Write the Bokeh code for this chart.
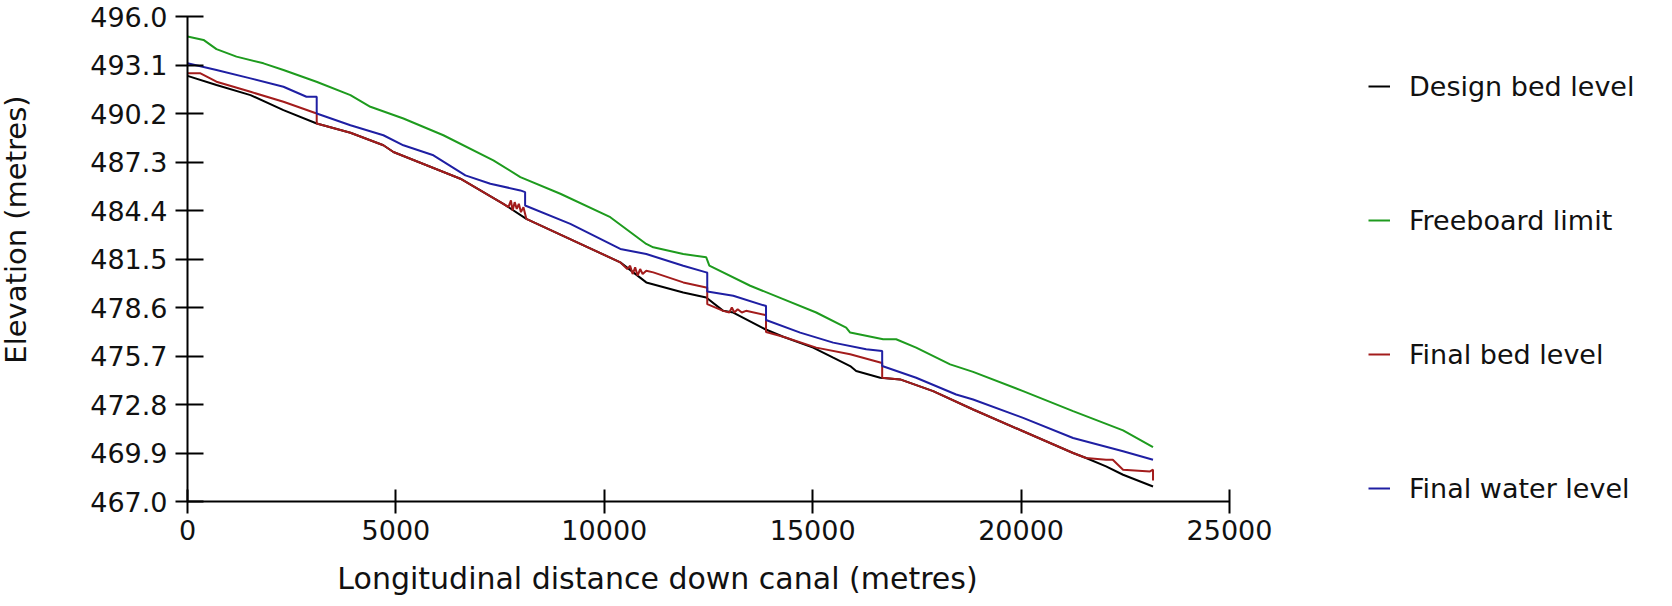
import math
from bokeh.plotting import figure
from bokeh.models import FixedTicker, PrintfTickFormatter, Legend, LegendItem, Label, Range1d
from bokeh.embed import file_html
from bokeh.resources import INLINE

# ---------------- data ----------------
x_ticks = [0, 5000, 10000, 15000, 20000, 25000]
y_ticks = [467.0, 469.9, 472.8, 475.7, 478.6, 481.5, 484.4, 487.3, 490.2, 493.1, 496.0]

design_x = [0, 695, 1511, 2302, 3100, 3909, 4700, 4940, 6547, 7578, 8129, 10384, 11007, 11894,
            12446, 12854, 13094, 13861, 14293, 15010, 15492, 15899, 16043, 16620, 17098, 17890,
            18849, 20048, 21247, 21559, 22038, 22446, 23165]
design_y = [492.45, 491.9, 491.3, 490.4, 489.6, 489.05, 488.3, 487.9, 486.3, 484.8, 483.9, 481.3,
            480.1, 479.5, 479.2, 478.4, 478.3, 477.3, 476.85, 476.2, 475.6, 475.1, 474.8, 474.4,
            474.3, 473.6, 472.5, 471.2, 469.9, 469.6, 469.1, 468.6, 467.9]

freeboard_x = [0, 384, 695, 1175, 1823, 2302, 3094, 3909, 4388, 5180, 6139, 7338, 7986, 8945,
               10144, 11007, 11175, 11894, 12446, 12520, 13501, 14293, 15084, 15803, 15899, 16691,
               17002, 17482, 18297, 18849, 20048, 21247, 22446, 23165]
freeboard_y = [494.8, 494.6, 494.05, 493.6, 493.2, 492.8, 492.1, 491.3, 490.6, 489.9, 488.9, 487.4,
               486.4, 485.4, 484.0, 482.4, 482.2, 481.8, 481.6, 481.1, 479.9, 479.1, 478.3, 477.4,
               477.1, 476.7, 476.7, 476.2, 475.2, 474.75, 473.6, 472.4, 471.25, 470.25]

final_bed_x = [0, 312, 695, 1511, 2302, 3100, 3100, 3909, 4700, 4940, 6547, 7578, 7700, 7760, 7800,
               7850, 7900, 7950, 8000, 8060, 8129, 10384, 10550, 10620, 10680, 10740, 10800, 10860,
               10920, 11007, 11175, 11894, 12446, 12470, 12470, 12854, 13000, 13060, 13120, 13200,
               13300, 13400, 13861, 13880, 13880, 14293, 15084, 15899, 16643, 16667, 16667, 17098,
               17890, 18849, 20048, 21247, 21559, 22038, 22200, 22446, 23094, 23165, 23165]
final_bed_y = [492.6, 492.6, 492.1, 491.5, 490.9, 490.2, 489.6, 489.05, 488.3, 487.9, 486.3, 484.8,
               484.6, 485.0, 484.4, 484.9, 484.5, 484.8, 484.3, 484.6, 483.9, 481.3, 480.9, 481.1,
               480.6, 481.0, 480.5, 480.9, 480.6, 480.8, 480.7, 480.1, 479.8, 479.8, 478.8, 478.4,
               478.3, 478.6, 478.3, 478.5, 478.3, 478.4, 478.15, 478.15, 477.14, 476.85, 476.2,
               475.8, 475.3, 475.3, 474.4, 474.3, 473.6, 472.5, 471.2, 469.9, 469.6, 469.5, 469.5,
               468.9, 468.8, 468.9, 468.25]

water_x = [0, 695, 1511, 2302, 2854, 3100, 3100, 3909, 4700, 5180, 5900, 6667, 7266, 7986, 8100,
           8100, 9185, 10384, 11007, 11894, 12446, 12470, 12470, 13094, 13861, 13880, 13880, 14700,
           15492, 16283, 16667, 16667, 17482, 18441, 18849, 20048, 21247, 22446, 23165]
water_y = [493.2, 492.8, 492.3, 491.8, 491.2, 491.2, 490.2, 489.5, 488.9, 488.3, 487.7, 486.5, 486.0,
           485.6, 485.5, 484.7, 483.6, 482.1, 481.8, 481.1, 480.7, 480.7, 479.55, 479.3, 478.7,
           478.7, 477.85, 477.1, 476.5, 476.1, 476.0, 475.1, 474.4, 473.4, 473.1, 472.0, 470.8,
           470.0, 469.5]

series_names = ["Design bed level", "Freeboard limit", "Final bed level", "Final water level"]
series_colors = ["#000000", "#1e9b1e", "#a31c1c", "#1f1fa3"]

x_label = "Longitudinal distance down canal (metres)"
y_label = "Elevation (metres)"

# ---------------- layout (pixels inside the figure) ----------------
FONT = "DejaVu Sans"
W, H = 1656, 596
AX_LEFT, AX_RIGHT = 187.0, 1229.0     # pixel of x=0 and x=25000
AX_TOP, AX_BOTTOM = 16.0, 501.0       # pixel of y=496 and y=467
x0, x1 = x_ticks[0], x_ticks[-1]
y0, y1 = y_ticks[0], y_ticks[-1]
sx = (AX_RIGHT - AX_LEFT) / (x1 - x0)
sy = (AX_BOTTOM - AX_TOP) / (y1 - y0)
x_range = Range1d(x0 - AX_LEFT / sx, x0 + (W - AX_LEFT) / sx)
y_range = Range1d(y0 - (H - AX_BOTTOM) / sy, y1 + AX_TOP / sy)

def px_to_data(px, py):
    return x0 + (px - AX_LEFT) / sx, y0 + (AX_BOTTOM - py) / sy

p = figure(width=W, height=H, output_backend="svg", toolbar_location=None,
           x_range=x_range, y_range=y_range, min_border=0)
p.outline_line_color = None
p.xgrid.visible = False
p.ygrid.visible = False
p.background_fill_color = "white"
p.border_fill_color = "white"

renderers = []
for xs_, ys_, c in zip([design_x, freeboard_x, final_bed_x, water_x],
                       [design_y, freeboard_y, final_bed_y, water_y], series_colors):
    renderers.append(p.line(xs_, ys_, line_color=c, line_width=2))

# axes drawn at fixed data locations inside the canvas
p.xaxis.fixed_location = y0
p.yaxis.fixed_location = x0
p.xaxis.bounds = (x0, x1)
p.yaxis.bounds = (y0, y1)
p.xaxis.ticker = FixedTicker(ticks=x_ticks)
p.yaxis.ticker = FixedTicker(ticks=y_ticks)
p.xaxis.formatter = PrintfTickFormatter(format="%d")
p.yaxis.formatter = PrintfTickFormatter(format="%.1f")
for ax in (p.xaxis[0], p.yaxis[0]):
    ax.axis_line_width = 2
    ax.axis_line_color = "black"
    ax.major_tick_line_width = 2
    ax.major_tick_line_color = "black"
    ax.minor_tick_line_color = None
    ax.major_label_text_font = FONT
    ax.major_label_text_font_size = "27px"
    ax.major_label_text_color = "#111111"
p.yaxis.major_tick_in = 16
p.yaxis.major_tick_out = 12
p.yaxis.major_label_standoff = 8
p.xaxis.major_tick_in = 12
p.xaxis.major_tick_out = 12
p.xaxis.major_label_standoff = 6

# axis titles
lx, ly = px_to_data(657, 578)
p.add_layout(Label(x=lx, y=ly, text=x_label, text_align="center", text_baseline="middle",
                   text_font=FONT, text_font_size="30px", text_color="#111111"))
lx, ly = px_to_data(15.5, 229)
p.add_layout(Label(x=lx, y=ly, text=y_label, angle=math.pi / 2, text_align="center",
                   text_baseline="middle", text_font=FONT, text_font_size="29px",
                   text_color="#111111"))

legend = Legend(items=[LegendItem(label=n, renderers=[r]) for n, r in zip(series_names, renderers)],
                location=(1368, 92), border_line_color=None, background_fill_alpha=0,
                glyph_width=22, glyph_height=32, label_height=32, spacing=102,
                label_standoff=19, padding=10, margin=0,
                label_text_font=FONT, label_text_font_size="27px", label_text_color="#111111")
p.add_layout(legend, "center")

open("out.html", "w").write(file_html(p, INLINE))
